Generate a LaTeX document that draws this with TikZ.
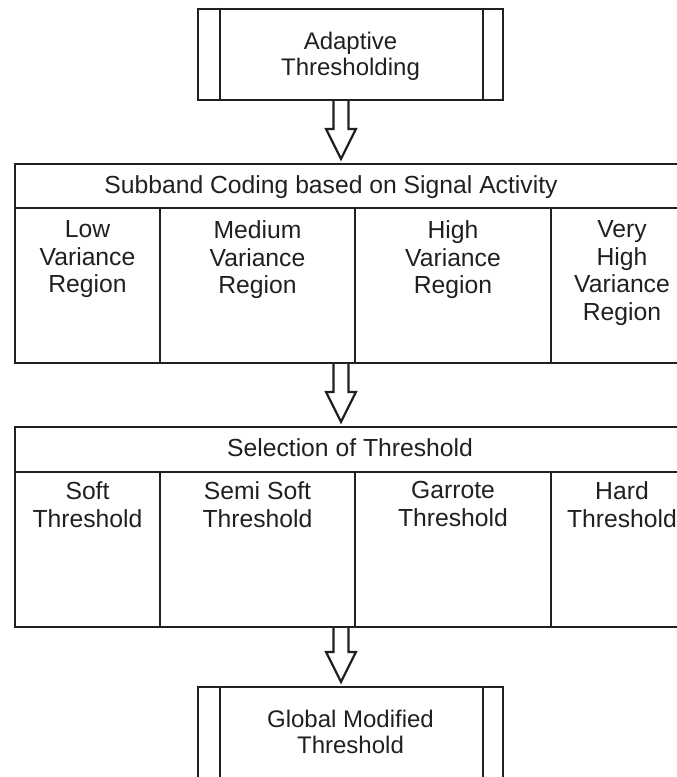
\documentclass[tikz,border=0pt]{standalone}
\usepackage{fontspec}
\setmainfont{Liberation Sans}
\usepackage{xcolor}
\definecolor{ink}{HTML}{231F20}
\usepackage{tikz}
\usetikzlibrary{arrows.meta, calc, positioning}
\tikzset{
    block/.style={
        rectangle, draw=ink, line width=2.2pt,
        inner sep=0pt,
        minimum width=305pt, minimum height=91pt,
        text=ink, align=center, text depth=1pt,
        font=\fontsize{24}{26.5}\selectfont
    },
    head/.style={
        block,
        minimum width=678pt
    },
    cell/.style={
        block,
        minimum height=155pt
    },
    celltext/.style={
        text=ink, align=center, inner sep=0pt,
        font=\fontsize{24.7}{27.6}\selectfont
    },
    hollow/.style={
        draw=ink, line width=2.2pt, line join=miter
    },
}
\newcommand{\sidebars}[1]{%
    \draw[ink, line width=2.2pt] ([xshift=23pt]#1.north west) -- ([xshift=23pt]#1.south west);
    \draw[ink, line width=2.2pt] ([xshift=-21pt]#1.north east) -- ([xshift=-21pt]#1.south east);
}
\newcommand{\blockarrow}[2]{%
    \draw[hollow] let \p1=(#1), \p2=(#2) in
        (\x1-7.5pt,\y1) -- (\x1-7.5pt,\y2+34pt) -- (\x1-15pt,\y2+34pt) -- (\x1,\y2+4pt)
        -- (\x1+15pt,\y2+34pt) -- (\x1+7.5pt,\y2+34pt) -- (\x1+7.5pt,\y1);
}

\begin{document}
\begin{tikzpicture}[x=1pt, y=-1pt]
        \path[use as bounding box] (0,0) rectangle (677,777);
        \clip (0,0) rectangle (677,777);
        \coordinate (axis) at (341,0);

        \node[block] (adapt) at (350.5,54.5) {Adaptive\\Thresholding};
        \sidebars{adapt}

        \node[head, minimum height=44pt] (band) at (354,186) {};
        \node[celltext, anchor=base] (band text) at (331,193.9) {Subband Coding based on Signal Activity};
        \foreach \name/\cx/\w/\txt in {low/87.5/145/{Low\\Variance\\Region},
                medium/257.5/195/{Medium\\Variance\\Region},
                high/453/196/{High\\Variance\\Region},
                veryhigh/622/142/{Very\\High\\Variance\\Region}} {
            \node[cell, minimum width=\w pt] (\name) at (\cx,285.5) {};
            \node[celltext, anchor=north] (\name text) at ([yshift=-13.7pt]\name.north) {\txt};
        }

        \node[head, minimum height=45pt] (select) at (354,449.5) {};
        \node[celltext, anchor=base] (select text) at (350,456.9) {Selection of Threshold};
        \foreach \name/\cx/\w/\txt in {soft/87.5/145/{Soft\\Threshold},
                semisoft/257.5/195/{Semi Soft\\Threshold},
                garrote/453/196/{Garrote\\Threshold},
                hard/622/142/{Hard\\Threshold}} {
            \node[cell, minimum width=\w pt] (\name) at (\cx,549.5) {};
            \node[celltext, anchor=north] (\name text) at ([yshift=-10.5pt]\name.north) {\txt};
        }

        \node[block] (global) at (350.5,732.5) {Global Modified\\Threshold};
        \sidebars{global}

        \blockarrow{adapt.south -| axis}{band.north -| axis}
        \blockarrow{medium.south -| axis}{select.north -| axis}
        \blockarrow{semisoft.south -| axis}{global.north -| axis}
\end{tikzpicture}
\end{document}
